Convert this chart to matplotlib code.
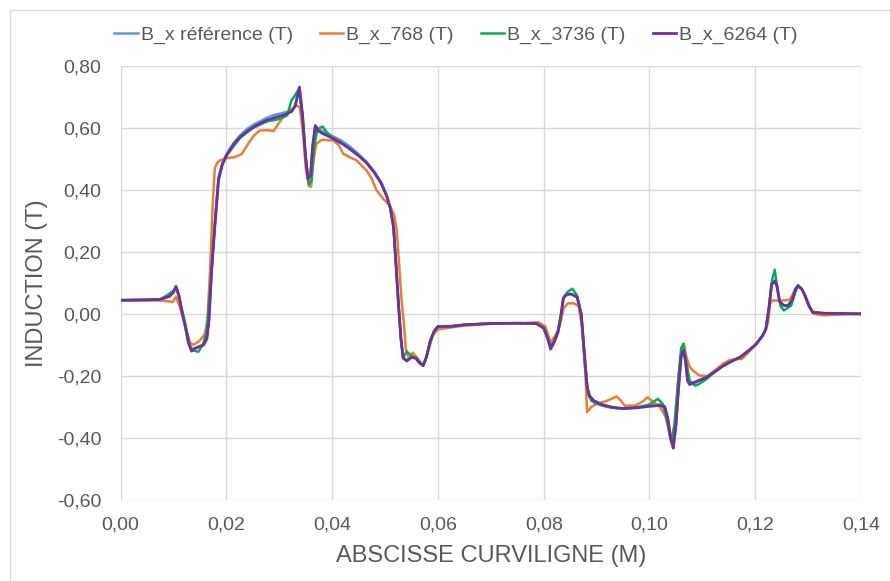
import matplotlib
matplotlib.use("Agg")
import matplotlib.pyplot as plt
from matplotlib.patches import Rectangle

plt.rcParams['font.family'] = ['Liberation Sans', 'DejaVu Sans']

# purple series, B_x_6264
x_6264 = [0.000, 0.005, 0.0075, 0.0092, 0.0100, 0.01045, 0.0110, 0.0115, 0.0122, 0.0128,
          0.0134, 0.0140, 0.0150, 0.0157, 0.0163, 0.0167, 0.0172, 0.0178, 0.0185, 0.0192,
          0.0200, 0.0213, 0.0226, 0.0240, 0.0251, 0.0265, 0.0276, 0.0290, 0.0307, 0.0323,
          0.0330, 0.0338, 0.0344, 0.0349, 0.0354, 0.0359, 0.0363, 0.0368, 0.0374, 0.0380,
          0.0390, 0.0402, 0.0418, 0.0433, 0.0450, 0.0465, 0.0480, 0.0493, 0.0503, 0.0510,
          0.0516, 0.0521, 0.0525, 0.0530, 0.0534, 0.0541, 0.0550, 0.0558, 0.0565, 0.0572,
          0.0578, 0.0585, 0.0593, 0.0600, 0.0626, 0.0651, 0.0700, 0.0750, 0.0786, 0.0800,
          0.0808, 0.0813, 0.0820, 0.0827, 0.0833, 0.0837, 0.0843, 0.0852, 0.0863, 0.0871,
          0.0877, 0.0882, 0.0887, 0.0895, 0.0910, 0.0930, 0.0950, 0.0975, 0.1000, 0.1020,
          0.1029, 0.1035, 0.1040, 0.1045, 0.1050, 0.1055, 0.1060, 0.1064, 0.1068, 0.1072,
          0.1076, 0.1090, 0.1108, 0.1125, 0.1139, 0.1155, 0.1171, 0.1190, 0.1202, 0.1213,
          0.1220, 0.1226, 0.1231, 0.1237, 0.1241, 0.1246, 0.1254, 0.1262, 0.1270, 0.1276,
          0.1281, 0.1288, 0.1294, 0.1302, 0.1309, 0.1330, 0.1400]
b_6264 = [0.044, 0.045, 0.047, 0.056, 0.070, 0.088, 0.060, 0.015, -0.040, -0.092,
          -0.120, -0.112, -0.105, -0.100, -0.080, -0.020, 0.140, 0.280, 0.430, 0.480,
          0.510, 0.545, 0.570, 0.590, 0.602, 0.615, 0.624, 0.632, 0.640, 0.652,
          0.670, 0.731, 0.640, 0.520, 0.435, 0.445, 0.540, 0.607, 0.590, 0.583,
          0.575, 0.565, 0.550, 0.532, 0.510, 0.487, 0.455, 0.420, 0.380, 0.340,
          0.280, 0.150, 0.040, -0.080, -0.140, -0.152, -0.140, -0.143, -0.158, -0.167,
          -0.140, -0.090, -0.055, -0.041, -0.040, -0.035, -0.031, -0.030, -0.031, -0.045,
          -0.080, -0.112, -0.090, -0.059, 0.000, 0.050, 0.062, 0.064, 0.054, 0.000,
          -0.130, -0.235, -0.265, -0.280, -0.292, -0.301, -0.305, -0.303, -0.298, -0.295,
          -0.300, -0.340, -0.400, -0.433, -0.360, -0.240, -0.135, -0.118, -0.150, -0.215,
          -0.228, -0.218, -0.204, -0.185, -0.168, -0.153, -0.140, -0.115, -0.097, -0.072,
          -0.050, 0.020, 0.095, 0.105, 0.090, 0.040, 0.027, 0.027, 0.045, 0.080,
          0.091, 0.080, 0.060, 0.025, 0.005, 0.002, 0.000]

# reference series (mostly hidden under purple)
x_ref = [0.000, 0.005, 0.0075, 0.0092, 0.0100, 0.01045, 0.0110, 0.0115, 0.0122, 0.0128,
         0.0134, 0.0140, 0.0150, 0.0157, 0.0163, 0.0167, 0.0172, 0.0178, 0.0185, 0.0192,
         0.0200, 0.0213, 0.0226, 0.0240, 0.0251, 0.0265, 0.0276, 0.0290, 0.0307, 0.0323,
         0.0330, 0.0338, 0.0344, 0.0349, 0.0354, 0.0359, 0.0363, 0.0368, 0.0374, 0.0380,
         0.0390, 0.0402, 0.0418, 0.0433, 0.0450, 0.0465, 0.0480, 0.0493, 0.0503, 0.0510,
         0.0516, 0.0521, 0.0525, 0.0530, 0.0534, 0.0541, 0.0550, 0.0558, 0.0565, 0.0572,
         0.0578, 0.0585, 0.0593, 0.0600, 0.0626, 0.0651, 0.0700, 0.0750, 0.0786, 0.0800,
         0.0808, 0.0813, 0.0820, 0.0827, 0.0833, 0.0837, 0.0843, 0.0852, 0.0863, 0.0871,
         0.0877, 0.0882, 0.0887, 0.0895, 0.0910, 0.0930, 0.0950, 0.0975, 0.1000, 0.1020,
         0.1029, 0.1035, 0.1040, 0.1045, 0.1050, 0.1055, 0.1060, 0.1064, 0.1068, 0.1072,
         0.1076, 0.1090, 0.1108, 0.1125, 0.1139, 0.1155, 0.1171, 0.1190, 0.1202, 0.1213,
         0.1220, 0.1226, 0.1231, 0.1237, 0.1241, 0.1246, 0.1254, 0.1262, 0.1270, 0.1276,
         0.1281, 0.1288, 0.1294, 0.1302, 0.1309, 0.1330, 0.1400]
b_ref = [0.044, 0.045, 0.047, 0.058, 0.072, 0.090, 0.062, 0.015, -0.040, -0.094,
         -0.118, -0.110, -0.104, -0.098, -0.078, -0.015, 0.140, 0.285, 0.435, 0.485,
         0.515, 0.550, 0.576, 0.597, 0.610, 0.622, 0.632, 0.641, 0.648, 0.655,
         0.672, 0.728, 0.640, 0.520, 0.440, 0.448, 0.540, 0.605, 0.595, 0.590,
         0.582, 0.572, 0.558, 0.540, 0.515, 0.490, 0.458, 0.422, 0.382, 0.340,
         0.280, 0.150, 0.040, -0.080, -0.145, -0.150, -0.138, -0.143, -0.158, -0.165,
         -0.140, -0.090, -0.055, -0.040, -0.039, -0.035, -0.031, -0.030, -0.031, -0.048,
         -0.085, -0.115, -0.092, -0.060, 0.000, 0.050, 0.062, 0.064, 0.054, 0.000,
         -0.130, -0.235, -0.268, -0.282, -0.294, -0.302, -0.305, -0.302, -0.296, -0.292,
         -0.298, -0.340, -0.400, -0.430, -0.360, -0.240, -0.135, -0.118, -0.150, -0.212,
         -0.225, -0.216, -0.203, -0.185, -0.168, -0.153, -0.140, -0.115, -0.097, -0.072,
         -0.050, 0.020, 0.095, 0.108, 0.092, 0.040, 0.027, 0.027, 0.045, 0.080,
         0.092, 0.080, 0.060, 0.025, 0.005, 0.002, 0.000]

# orange series, B_x_768
x_768 = [0.000, 0.0075, 0.0092, 0.0098, 0.0105, 0.0112, 0.0122, 0.0131, 0.0137, 0.0145,
         0.0150, 0.0159, 0.0164, 0.0169, 0.0174, 0.0178, 0.0183, 0.0188, 0.0200, 0.0215,
         0.0229, 0.0241, 0.0252, 0.0263, 0.0280, 0.0289, 0.0298, 0.0307, 0.0320, 0.0333,
         0.0339, 0.0345, 0.0350, 0.0356, 0.0360, 0.0365, 0.0370, 0.0380, 0.0402, 0.0412,
         0.0421, 0.0433, 0.0446, 0.0465, 0.0475, 0.0484, 0.0497, 0.0509, 0.0517, 0.0522,
         0.0527, 0.0531, 0.0536, 0.0539, 0.0544, 0.0552, 0.0560, 0.0572, 0.0581, 0.0590,
         0.0600, 0.0620, 0.0650, 0.0700, 0.0760, 0.0790, 0.0803, 0.0813, 0.0822, 0.0830,
         0.0838, 0.0846, 0.0857, 0.0866, 0.0873, 0.0879, 0.0882, 0.0890, 0.0900, 0.0920,
         0.0938, 0.0946, 0.0953, 0.0972, 0.0985, 0.0997, 0.1008, 0.1020, 0.1030, 0.1036,
         0.1041, 0.1047, 0.1055, 0.1061, 0.1065, 0.1070, 0.1076, 0.1082, 0.1095, 0.1110,
         0.1125, 0.1140, 0.1152, 0.1165, 0.1175, 0.1185, 0.1200, 0.1215, 0.1224, 0.1228,
         0.1231, 0.1250, 0.1265, 0.1273, 0.1281, 0.1290, 0.1300, 0.1310, 0.1330, 0.1350,
         0.1400]
b_768 = [0.044, 0.043, 0.040, 0.038, 0.055, 0.021, -0.038, -0.092, -0.100, -0.092,
         -0.085, -0.065, -0.020, 0.140, 0.350, 0.470, 0.488, 0.495, 0.502, 0.505,
         0.515, 0.548, 0.575, 0.591, 0.592, 0.589, 0.612, 0.634, 0.655, 0.672,
         0.665, 0.580, 0.470, 0.412, 0.410, 0.500, 0.548, 0.561, 0.559, 0.545,
         0.516, 0.505, 0.495, 0.462, 0.435, 0.398, 0.370, 0.349, 0.320, 0.270,
         0.150, 0.050, -0.040, -0.110, -0.140, -0.125, -0.140, -0.167, -0.125, -0.070,
         -0.050, -0.045, -0.038, -0.032, -0.030, -0.027, -0.040, -0.092, -0.070, -0.040,
         0.020, 0.034, 0.034, 0.025, -0.050, -0.200, -0.317, -0.300, -0.290, -0.280,
         -0.266, -0.280, -0.296, -0.296, -0.285, -0.269, -0.285, -0.300, -0.330, -0.370,
         -0.410, -0.360, -0.200, -0.110, -0.095, -0.140, -0.170, -0.183, -0.199, -0.200,
         -0.180, -0.160, -0.148, -0.146, -0.145, -0.128, -0.100, -0.070, -0.030, 0.030,
         0.043, 0.043, 0.045, 0.070, 0.091, 0.075, 0.030, 0.000, -0.005, -0.003,
         0.000]

# green series, B_x_3736
x_3736 = [0.000, 0.0075, 0.0087, 0.0100, 0.0105, 0.0110, 0.0122, 0.0130, 0.0137, 0.0147,
          0.0156, 0.0163, 0.0167, 0.0172, 0.0178, 0.0185, 0.0192, 0.0200, 0.0226, 0.0251,
          0.0276, 0.0300, 0.0315, 0.0323, 0.0330, 0.0337, 0.0344, 0.0350, 0.0356, 0.0361,
          0.0366, 0.0372, 0.0382, 0.0390, 0.0402, 0.0418, 0.0433, 0.0450, 0.0465, 0.0480,
          0.0493, 0.0503, 0.0510, 0.0516, 0.0521, 0.0525, 0.0530, 0.0534, 0.0541, 0.0550,
          0.0560, 0.0572, 0.0578, 0.0585, 0.0593, 0.0600, 0.0626, 0.0651, 0.0700, 0.0750,
          0.0786, 0.0800, 0.0808, 0.0813, 0.0820, 0.0827, 0.0833, 0.0838, 0.0846, 0.0854,
          0.0863, 0.0871, 0.0878, 0.0884, 0.0890, 0.0900, 0.0920, 0.0940, 0.0960, 0.0980,
          0.1000, 0.1016, 0.1025, 0.1033, 0.1038, 0.1042, 0.1048, 0.1055, 0.1060, 0.1064,
          0.1069, 0.1076, 0.1086, 0.1092, 0.1108, 0.1125, 0.1139, 0.1155, 0.1171, 0.1190,
          0.1202, 0.1213, 0.1220, 0.1226, 0.1232, 0.1237, 0.1242, 0.1248, 0.1254, 0.1268,
          0.1276, 0.1281, 0.1288, 0.1294, 0.1302, 0.1309, 0.1330, 0.1400]
b_3736 = [0.044, 0.047, 0.059, 0.075, 0.085, 0.055, -0.030, -0.100, -0.118, -0.122,
          -0.097, -0.054, 0.032, 0.150, 0.290, 0.440, 0.482, 0.510, 0.568, 0.600,
          0.620, 0.628, 0.640, 0.688, 0.705, 0.725, 0.630, 0.500, 0.417, 0.430,
          0.540, 0.595, 0.604, 0.585, 0.565, 0.550, 0.532, 0.510, 0.487, 0.455,
          0.420, 0.380, 0.340, 0.280, 0.150, 0.040, -0.080, -0.140, -0.122, -0.135,
          -0.145, -0.167, -0.140, -0.090, -0.055, -0.041, -0.040, -0.035, -0.031, -0.030,
          -0.031, -0.045, -0.080, -0.105, -0.088, -0.055, 0.000, 0.055, 0.072, 0.081,
          0.060, 0.000, -0.160, -0.258, -0.280, -0.290, -0.300, -0.305, -0.304, -0.300,
          -0.292, -0.274, -0.290, -0.340, -0.390, -0.414, -0.350, -0.200, -0.110, -0.097,
          -0.150, -0.215, -0.231, -0.228, -0.210, -0.185, -0.168, -0.153, -0.140, -0.115,
          -0.097, -0.072, -0.050, 0.020, 0.110, 0.142, 0.080, 0.025, 0.011, 0.027,
          0.070, 0.091, 0.080, 0.060, 0.025, 0.005, 0.002, 0.000]

x_ticks = [0.00, 0.02, 0.04, 0.06, 0.08, 0.10, 0.12, 0.14]
y_ticks = [-0.60, -0.40, -0.20, 0.00, 0.20, 0.40, 0.60, 0.80]

text_color = '#595959'

fig = plt.figure(figsize=(8.9, 5.81), dpi=100)
ax = fig.add_axes([0.1356, 0.1394, 0.8318, 0.7475])

ax.plot(x_ref, b_ref, color='#5B9BD5', lw=1.8, label='B_x référence (T)')
ax.plot(x_768, b_768, color='#ED7D31', lw=1.8, label='B_x_768 (T)')
ax.plot(x_3736, b_3736, color='#00B050', lw=1.8, label='B_x_3736 (T)')
ax.plot(x_6264, b_6264, color='#7030A0', lw=2.0, label='B_x_6264 (T)')

ax.set_xlim(0, 0.14)
ax.set_ylim(-0.6, 0.8)
ax.set_xticks(x_ticks)
ax.set_yticks(y_ticks)
ax.set_xticklabels([f'{v:.2f}'.replace('.', ',') for v in x_ticks])
ax.set_yticklabels([f'{v:.2f}'.replace('.', ',') for v in y_ticks])
ax.tick_params(length=0, labelsize=14, colors=text_color)
ax.tick_params(axis='x', pad=12)
ax.tick_params(axis='y', pad=14)
ax.grid(True, color='#D9D9D9', lw=1)
ax.set_axisbelow(True)
for s in ax.spines.values():
    s.set_visible(False)

ax.set_xlabel('ABSCISSE CURVILIGNE (M)', fontsize=17, color=text_color, labelpad=8)
ax.set_ylabel('INDUCTION (T)', fontsize=17, color=text_color, labelpad=6)

fig.legend(loc='center', bbox_to_anchor=(456 / 890, 1 - 35 / 581), ncol=4, frameon=False,
           fontsize=14, handlelength=1.2, handletextpad=0.15, columnspacing=1.4,
           labelcolor=text_color)

# light chart border
fig.patches.append(Rectangle((10 / 890, -0.1), 1.2, 1.1 - 10 / 581, transform=fig.transFigure,
                             fill=False, edgecolor='#D9D9D9', lw=1))

fig.savefig('out.png', dpi=100)
